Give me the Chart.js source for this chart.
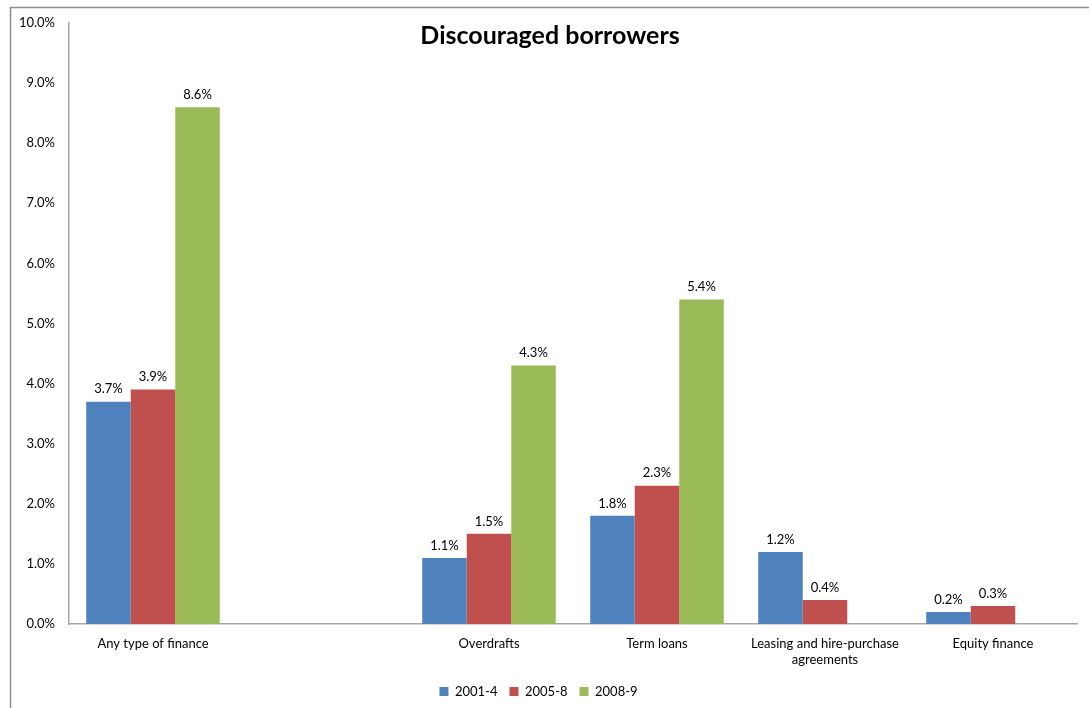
<!DOCTYPE html>
<html>
<head>
<meta charset="utf-8">
<script src="https://cdn.jsdelivr.net/npm/chart.js@4/dist/chart.umd.min.js"></script>
<style>
  html, body { margin: 0; padding: 0; background: #fff; }
  #wrap { width: 1089px; height: 708px; position: relative; }
</style>
</head>
<body>
<div id="wrap"><canvas id="c" width="1089" height="708"></canvas></div>
<script>
// Share of firms discouraged from applying, by type of finance (%)
const categories = [
  "Any type of finance",
  "",
  "Overdrafts",
  "Term loans",
  ["Leasing and hire-purchase", "agreements"],
  "Equity finance"
];
const period2001_4 = [3.7, null, 1.1, 1.8, 1.2, 0.2];
const period2005_8 = [3.9, null, 1.5, 2.3, 0.4, 0.3];
const period2008_9 = [8.6, null, 4.3, 5.4, null, null];
const seriesNames = ["2001-4", "2005-8", "2008-9"];
const yTicks = { min: 0, max: 10, step: 1 };
const chartTitle = "Discouraged borrowers";

const FONT = "Lato, 'Noto Sans', 'Liberation Sans', sans-serif";

// Outer frame lines, title and value labels
const decor = {
  id: "decor",
  beforeDraw(chart) {
    const ctx = chart.ctx;
    ctx.save();
    ctx.fillStyle = "#fff";
    ctx.fillRect(0, 0, chart.width, chart.height);
    ctx.strokeStyle = "#8c8c8c";
    ctx.lineWidth = 1.5;
    ctx.beginPath();
    ctx.moveTo(10.5, chart.height);
    ctx.lineTo(10.5, 7.5);
    ctx.lineTo(chart.width, 7.5);
    ctx.stroke();
    ctx.restore();
  },
  afterDatasetsDraw(chart) {
    const ctx = chart.ctx;
    ctx.save();
    ctx.fillStyle = "#000";
    ctx.font = "bold 25px " + FONT;
    ctx.textAlign = "center";
    ctx.textBaseline = "middle";
    ctx.fillText(chartTitle, 550, 36);

    ctx.font = "13px " + FONT;
    ctx.textBaseline = "bottom";
    chart.data.datasets.forEach((ds, i) => {
      const meta = chart.getDatasetMeta(i);
      meta.data.forEach((bar, j) => {
        const v = ds.data[j];
        if (v === null || v === undefined) return;
        ctx.fillText(v.toFixed(1) + "%", bar.x, bar.y - 6);
      });
    });
    ctx.restore();
  }
};

new Chart(document.getElementById("c"), {
  type: "bar",
  data: {
    labels: categories,
    datasets: [
      { label: seriesNames[0], data: period2001_4, backgroundColor: "#4F81BD" },
      { label: seriesNames[1], data: period2005_8, backgroundColor: "#C0504D" },
      { label: seriesNames[2], data: period2008_9, backgroundColor: "#9BBB59" }
    ]
  },
  options: {
    responsive: false,
    animation: false,
    devicePixelRatio: 1,
    layout: { padding: { left: 0, right: 12, top: 23, bottom: 0 } },
    datasets: { bar: { categoryPercentage: 0.795, barPercentage: 1.0 } },
    plugins: {
      title: { display: false },
      tooltip: { enabled: false },
      legend: {
        display: true,
        position: "bottom",
        labels: {
          boxWidth: 9,
          boxHeight: 9,
          padding: 12,
          color: "#000",
          font: { family: FONT, size: 13 }
        }
      }
    },
    scales: {
      x: {
        grid: { display: false, drawTicks: false },
        border: { display: true, color: "#a6a6a6", width: 1.5 },
        ticks: {
          color: "#000",
          padding: 12,
          maxRotation: 0,
          autoSkip: false,
          font: { family: FONT, size: 13 }
        },
        afterFit(scale) { scale.height = 49; }
      },
      y: {
        min: yTicks.min,
        max: yTicks.max,
        grid: { display: false, drawTicks: false },
        border: { display: true, color: "#a6a6a6", width: 1.5 },
        ticks: {
          stepSize: yTicks.step,
          color: "#000",
          padding: 14,
          font: { family: FONT, size: 13 },
          callback: v => v.toFixed(1) + "%"
        },
        afterFit(scale) { scale.width = 69; }
      }
    }
  },
  plugins: [decor]
});
</script>
</body>
</html>
